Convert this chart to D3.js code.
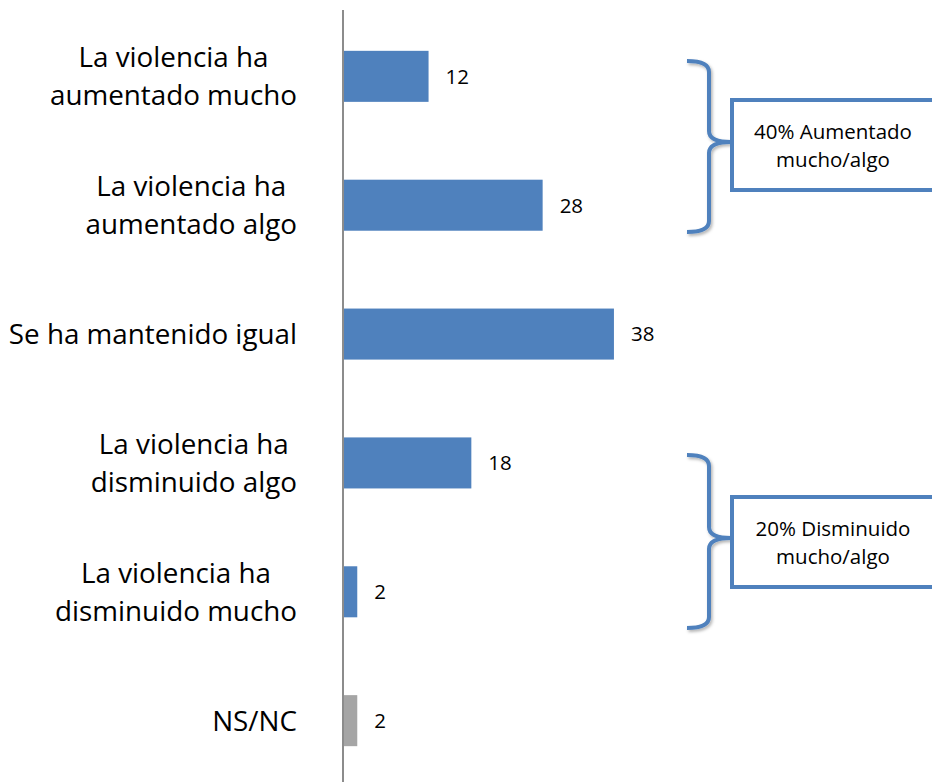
<!DOCTYPE html>
<html>
<head>
<meta charset="utf-8">
<script src="https://cdn.jsdelivr.net/npm/d3@7/dist/d3.min.js"></script>
<style>
  html, body { margin: 0; padding: 0; background: #fff; }
  svg { display: block; }
  text { font-family: "Open Sans", Lato, sans-serif; fill: #000; }
</style>
</head>
<body>
<svg id="chart" width="932" height="782"></svg>
<script>
// ---- data ----
const categories = [
  "La violencia ha aumentado mucho",
  "La violencia ha aumentado algo",
  "Se ha mantenido igual",
  "La violencia ha disminuido algo",
  "La violencia ha disminuido mucho",
  "NS/NC"
];
const labelLines = [
  ["La violencia ha", "aumentado mucho"],
  ["La violencia ha", "aumentado algo"],
  ["Se ha mantenido igual"],
  ["La violencia ha", "disminuido algo"],
  ["La violencia ha", "disminuido mucho"],
  ["NS/NC"]
];
const values = [12, 28, 38, 18, 2, 2];
const barColors = ["#4f81bd", "#4f81bd", "#4f81bd", "#4f81bd", "#4f81bd", "#a5a5a5"];
const groupNotes = [
  { from: 0, to: 1, lines: ["40% Aumentado", "mucho/algo"] },
  { from: 3, to: 4, lines: ["20% Disminuido", "mucho/algo"] }
];

// ---- layout ----
const svg = d3.select("#chart");
const x = d3.scaleLinear().domain([0, 40]).range([343, 628.2]);
const y = d3.scaleBand().domain(categories).range([-27, 824]).padding(0.604);

// bars
svg.append("g").selectAll("rect").data(categories).join("rect")
  .attr("x", x(0))
  .attr("y", d => y(d))
  .attr("width", (d, i) => x(values[i]) - x(0))
  .attr("height", y.bandwidth())
  .attr("fill", (d, i) => barColors[i]);

// axis line
svg.append("line")
  .attr("x1", x(0)).attr("x2", x(0))
  .attr("y1", 10).attr("y2", 782)
  .attr("stroke", "#8c8c8c").attr("stroke-width", 2);

// value labels
svg.append("g").selectAll("text").data(categories).join("text")
  .attr("x", (d, i) => x(values[i]) + 17)
  .attr("y", d => y(d) + y.bandwidth() / 2)
  .attr("dy", "0.36em")
  .attr("font-size", 20.5)
  .text((d, i) => values[i]);

// category labels: block right-aligned, lines centered within block
const lh = 38, labelRight = 297;
const lab = svg.append("g").selectAll("text").data(categories).join("text")
  .attr("text-anchor", "middle")
  .attr("font-size", 27.8);
lab.each(function(d, i) {
  const lines = labelLines[i];
  const t = d3.select(this);
  const n = lines.length;
  const spans = lines.map((s, k) => t.append("tspan")
      .attr("y", y(d) + y.bandwidth() / 2 + (k - (n - 1) / 2) * lh)
      .attr("dy", "0.36em")
      .text(s));
  const maxW = d3.max(spans, sp => sp.node().getComputedTextLength());
  spans.forEach(sp => sp.attr("x", labelRight - maxW / 2));
});

// brackets + boxes
const defs = svg.append("defs");
const f = defs.append("filter").attr("id", "sh").attr("x", "-20%").attr("y", "-20%").attr("width", "140%").attr("height", "140%");
f.append("feDropShadow").attr("dx", 1.5).attr("dy", 2).attr("stdDeviation", 1.5).attr("flood-color", "#000").attr("flood-opacity", 0.3);

const noteGeom = [
  { top: 61, bottom: 232, mid: 142, boxTop: 100, boxBottom: 190 },
  { top: 455, bottom: 628, mid: 538, boxTop: 497, boxBottom: 587 }
];
const bx0 = 687, bx1 = 709, tip = 731;
groupNotes.forEach((g, i) => {
  const G = noteGeom[i];
  const r = 11;
  const p = `M${bx0},${G.top} Q${bx1},${G.top} ${bx1},${G.top + r}
    L${bx1},${G.mid - r} Q${bx1},${G.mid} ${tip},${G.mid}
    Q${bx1},${G.mid} ${bx1},${G.mid + r}
    L${bx1},${G.bottom - r} Q${bx1},${G.bottom} ${bx0},${G.bottom}`;
  svg.append("path").attr("d", p)
    .attr("fill", "none").attr("stroke", "#4f81bd").attr("stroke-width", 4)
    .attr("stroke-linejoin", "round")
    .attr("filter", "url(#sh)");
  svg.append("rect")
    .attr("x", 732).attr("y", G.boxTop)
    .attr("width", 240).attr("height", G.boxBottom - G.boxTop)
    .attr("fill", "#fff").attr("stroke", "#4f81bd").attr("stroke-width", 4);
  const cy = (G.boxTop + G.boxBottom) / 2;
  g.lines.forEach((s, k) => {
    svg.append("text")
      .attr("x", 833)
      .attr("y", cy + (k - 0.5) * 28 + 1)
      .attr("dy", "0.36em")
      .attr("text-anchor", "middle")
      .attr("font-size", 20.5)
      .text(s);
  });
});
</script>
</body>
</html>
